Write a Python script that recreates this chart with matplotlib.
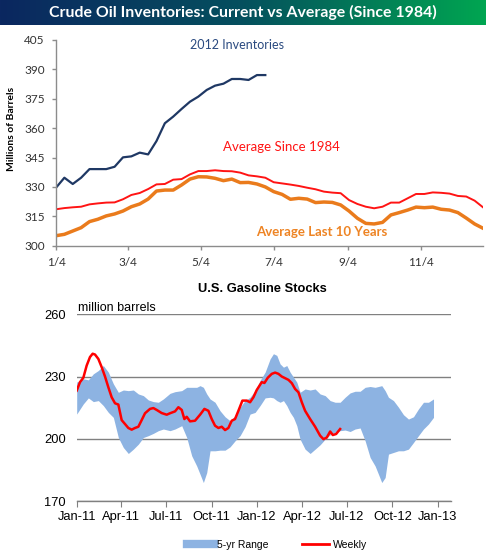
import numpy as np
import pandas as pd
import matplotlib
matplotlib.use('Agg')
import matplotlib.pyplot as plt
import matplotlib.dates as mdates
from matplotlib.colors import LinearSegmentedColormap
from matplotlib.lines import Line2D

# ---------------- data: crude oil inventories (weekly, 2012 calendar) ----------------
top_title = "Crude Oil Inventories: Current vs Average (Since 1984)"
top_start = "2012-01-04"
inv_2012 = [329.6, 334.7, 331.5, 334.7, 339.1, 339.1, 339.1, 340.3, 345.1, 345.6,
            347.5, 346.6, 353.4, 362.5, 365.9, 369.8, 373.5, 376.1, 379.5, 381.7,
            382.7, 385.1, 385.1, 384.6, 387.1, 387.1]
avg_since_1984 = [318.6, 319.2, 319.6, 319.9, 321.1, 321.6, 322.0, 322.1, 323.7, 325.9,
                  326.9, 328.9, 331.3, 331.5, 333.7, 334.0, 336.4, 338.1, 338.1, 338.5,
                  338.1, 338.0, 337.3, 335.9, 335.4, 334.7, 332.4, 331.8, 331.2, 330.5,
                  329.6, 328.8, 327.6, 327.1, 326.8, 323.3, 321.3, 319.9, 319.1, 319.9,
                  322.0, 322.0, 324.2, 326.4, 326.4, 327.2, 327.0, 326.6, 325.4, 325.1,
                  323.0, 319.6]
avg_last_10 = [305.1, 305.8, 307.5, 309.2, 312.3, 313.5, 315.2, 316.2, 317.7, 319.9,
               321.3, 323.8, 327.9, 328.4, 328.4, 331.0, 334.0, 335.2, 335.1, 334.4,
               333.2, 334.0, 332.2, 332.3, 331.5, 330.0, 327.6, 326.2, 323.7, 324.2,
               323.8, 322.0, 322.3, 322.1, 320.8, 317.7, 314.0, 311.4, 311.1, 311.9,
               315.7, 316.9, 318.2, 319.7, 319.4, 319.7, 318.6, 318.2, 316.9, 314.1,
               311.1, 308.9]
top_xticklabels = ['1/4', '3/4', '5/4', '7/4', '9/4', '11/4']
top_yticks = [300, 315, 330, 345, 360, 375, 390, 405]

# ---------------- data: U.S. gasoline stocks ----------------
gas_base = "2011-01-01"
band_day = [0, 13.4, 23.6, 33.7, 43.8, 53.9, 64.1, 74.2, 84.3, 94.4, 104.5, 114.7, 124.8,
            134.9, 145.0, 155.2, 165.3, 175.4,
            188.9, 199.0, 212.6, 222.7, 232.8, 242.9, 249.7, 256.4, 263.2, 269.9, 280.0,
            290.2, 300.3, 310.4, 320.5, 330.7, 340.8, 350.9,
            361.1, 371.2, 381.4, 391.5, 398.2, 405.0, 411.7, 418.5, 425.2, 432.0, 438.7,
            445.5, 452.2, 462.3, 472.5, 482.6, 492.7, 502.9, 513.0, 523.1, 533.2, 543.3,
            553.4, 563.5, 573.7, 583.8, 593.9, 604.0, 610.8, 617.5, 624.3, 631.0, 641.2,
            651.3, 661.4, 671.5, 681.7, 691.8, 701.9, 712.0, 722.2]
band_upper = [227.3, 228.9, 228.4, 231.3, 232.9, 235.3, 232.1, 226.5, 222.4, 223.5, 223.2,
              223.5, 221.6, 220.8, 218.7, 217.9, 217.6, 219.2,
              221.9, 222.7, 223.2, 224.8, 224.8, 224.8, 225.6, 224.8, 221.6, 219.2, 217.6,
              213.5, 210.6, 208.7, 211.1, 215.2, 218.4, 220.0,
              223.2, 228.1, 232.1, 238.5, 241.0, 240.2, 236.1, 234.5, 235.3, 232.1, 229.7,
              227.3, 222.4, 224.0, 223.5, 224.0, 221.6, 220.8, 218.4, 217.6, 217.6, 220.0,
              222.1, 222.9, 222.9, 224.8, 225.2, 224.8, 225.2, 225.6, 223.2, 220.0, 218.4,
              215.2, 211.6, 209.5, 210.6, 214.4, 217.6, 217.6, 219.2]
band_lower = [211.9, 216.8, 219.7, 217.9, 218.4, 216.0, 212.7, 210.3, 200.6, 195.8, 192.9,
              195.0, 197.4, 200.6, 201.5, 202.6, 203.9, 204.7,
              203.9, 204.7, 206.3, 200.6, 191.8, 186.9, 182.9, 178.9, 183.7, 194.2, 194.2,
              194.5, 194.5, 196.1, 199.0, 201.5, 205.8, 211.9,
              212.7, 216.0, 219.7, 220.0, 219.7, 218.4, 217.6, 218.4, 216.0, 212.7, 210.3,
              206.3, 199.8, 195.0, 192.9, 195.0, 197.1, 199.8, 201.9, 203.1, 203.9, 204.2,
              203.5, 204.7, 205.2, 199.0, 191.0, 186.9, 182.9, 178.9, 181.3, 192.6, 193.4,
              194.2, 194.2, 195.0, 198.2, 201.5, 204.7, 207.1, 210.3]
weekly_day = [0, 6.7, 13.4, 20.2, 26.9, 32.3, 37.1, 43.8, 50.6, 57.3, 64.1, 70.8, 77.6, 84.3,
              91.0, 97.8, 104.5, 111.3, 118.0, 124.8, 131.5, 138.3, 148.4, 155.2, 161.9,
              172.0, 182.2, 188.9, 199.0, 205.8, 212.6, 217.9, 222.7, 229.4, 239.5, 249.7,
              258.5, 266.5, 273.3, 280.0, 286.8, 293.6, 300.3, 307.0, 313.8, 320.5, 327.3,
              335.4, 344.2, 350.9, 357.7, 364.4, 374.6, 380.0, 386.7, 394.9, 401.6, 408.3,
              415.1, 421.9, 428.6, 435.4, 442.1, 448.8, 455.6, 462.3, 472.5, 482.6, 492.7,
              499.5, 506.2, 513.0, 518.4, 525.1, 533.2]
weekly_val = [223.2, 227.3, 229.4, 235.3, 239.4, 241.0, 240.6, 238.5, 234.5, 230.0, 224.8,
              220.0, 217.1, 216.5, 209.0, 207.1, 205.2, 204.4, 205.2, 205.8, 209.0, 212.3,
              214.4, 214.8, 213.9, 212.4, 211.6, 212.3, 213.2, 215.2, 213.9, 209.5, 210.6,
              208.4, 208.7, 211.6, 214.4, 213.5, 209.5, 206.3, 205.2, 205.8, 204.2, 205.2,
              208.7, 209.5, 213.5, 218.4, 218.4, 217.6, 220.0, 223.5, 227.3, 226.9, 229.4,
              231.3, 231.9, 231.3, 230.0, 229.2, 228.4, 226.8, 224.0, 222.4, 217.6, 213.5,
              209.5, 205.8, 201.5, 199.8, 200.6, 203.5, 201.8, 202.3, 204.7]
gas_yticks = [170, 200, 230, 260]

# ---------------- figure ----------------
W, H = 486, 559
fig = plt.figure(figsize=(W / 100, H / 100), dpi=100)
fig.patch.set_facecolor('white')

def fx(px):
    return px / W

def fy(py):
    return 1 - py / H

# banner
bax = fig.add_axes([0, fy(25), 1, 25 / H])
grad = np.linspace(0, 1, 256).reshape(1, -1)
cmap = LinearSegmentedColormap.from_list('ban', ['#0b2760', '#05505e', '#00a651'])
bax.imshow(grad, aspect='auto', cmap=cmap, extent=[0, 1, 0, 1])
bax.set_axis_off()
bax.text(0.5, 0.5, top_title, color='white', fontweight='bold', fontsize=11.4,
         ha='center', va='center', family='Lato', transform=bax.transAxes)

# top chart
ax1 = fig.add_axes([fx(56), fy(245.7), fx(483 - 56), (245.7 - 40) / H])
dates = pd.date_range(top_start, periods=len(avg_since_1984), freq='7D')
ax1.plot(dates[:len(inv_2012)], inv_2012, color='#1f3864', lw=1.6, solid_joinstyle='round')
ax1.plot(dates, avg_since_1984, color='#ff1414', lw=1.4)
ax1.plot(dates, avg_last_10, color='#ea7b1c', lw=2.5)
ax1.set_ylim(300, 405)
ax1.set_yticks(top_yticks)
ax1.set_xlim(dates[0], dates[-1])
tick_dates = [pd.Timestamp(f"2012-{t.split('/')[0]}-{t.split('/')[1]}") for t in top_xticklabels]
ax1.set_xticks(tick_dates)
ax1.set_xticklabels(top_xticklabels)
for s in ['top', 'right']:
    ax1.spines[s].set_visible(False)
for s in ['left', 'bottom']:
    ax1.spines[s].set_color('#8c8c8c')
    ax1.spines[s].set_linewidth(1)
ax1.tick_params(axis='both', direction='out', length=3, width=1, color='#8c8c8c',
                labelsize=8.5, labelcolor='#333333')
ax1.tick_params(axis='y', pad=5)
ax1.tick_params(axis='x', pad=5)
for lab in ax1.get_xticklabels() + ax1.get_yticklabels():
    lab.set_family('Lato')

fig.text(fx(11), fy(129), 'Millions of Barrels', rotation=90, fontweight='bold',
         fontsize=7.5, ha='center', va='center', family='Lato')
fig.text(fx(237), fy(45), '2012 Inventories', color='#2a4a80', fontsize=9,
         ha='center', va='center', family='Lato')
fig.text(fx(281), fy(147), 'Average Since 1984', color='#ff1414', fontsize=9.5,
         ha='center', va='center', family='Lato')
fig.text(fx(322), fy(232), 'Average Last 10 Years', color='#ee8424', fontsize=9.5,
         fontweight='bold', ha='center', va='center', family='Lato')

# bottom chart
base = pd.Timestamp(gas_base)
bx = base + pd.to_timedelta(band_day, unit='D')
wx = base + pd.to_timedelta(weekly_day, unit='D')
ax2 = fig.add_axes([fx(76.7), fy(501), fx(450.7 - 76.7), (501 - 314.3) / H])
ax2.fill_between(bx, band_lower, band_upper, color='#8db3e2', lw=0, zorder=2)
ax2.plot(wx, weekly_val, color='#ff0000', lw=1.8, zorder=3)
ax2.set_ylim(170, 260)
ax2.set_yticks(gas_yticks)
ax2.set_xlim(base, base + pd.Timedelta(days=757))
ax2.xaxis.set_major_locator(mdates.MonthLocator(bymonth=[1, 4, 7, 10]))
ax2.xaxis.set_major_formatter(mdates.DateFormatter('%b-%y'))
ax2.set_axisbelow(True)
ax2.grid(axis='y', color='#808080', lw=1)
ax2.grid(axis='x', visible=False)
for s in ['top', 'right', 'left']:
    ax2.spines[s].set_visible(False)
ax2.spines['bottom'].set_color('#808080')
ax2.spines['bottom'].set_linewidth(1)
ax2.tick_params(axis='x', direction='out', length=4, color='#808080', labelsize=9.3, pad=3)
ax2.tick_params(axis='y', length=0, labelsize=9.3, pad=8)
for lab in ax2.get_xticklabels() + ax2.get_yticklabels():
    lab.set_family('Liberation Sans')

fig.text(fx(262), fy(289), 'U.S. Gasoline Stocks', fontweight='bold', fontsize=9.3,
         ha='center', va='center', family='Liberation Sans')
fig.text(fx(78), fy(308), 'million barrels', fontsize=9, ha='left', va='center',
         family='Liberation Sans')

handles = [Line2D([], [], color='#8db3e2', lw=6), Line2D([], [], color='#ff0000', lw=2)]
fig.legend(handles, ['5-yr Range', 'Weekly'], loc='center', bbox_to_anchor=(fx(277), fy(545)),
           ncol=2, frameon=False, handlelength=2.6, handletextpad=0.3, columnspacing=3.2,
           prop={'family': 'Liberation Sans', 'size': 7.5})

fig.savefig('out.png', dpi=100, facecolor='white')
